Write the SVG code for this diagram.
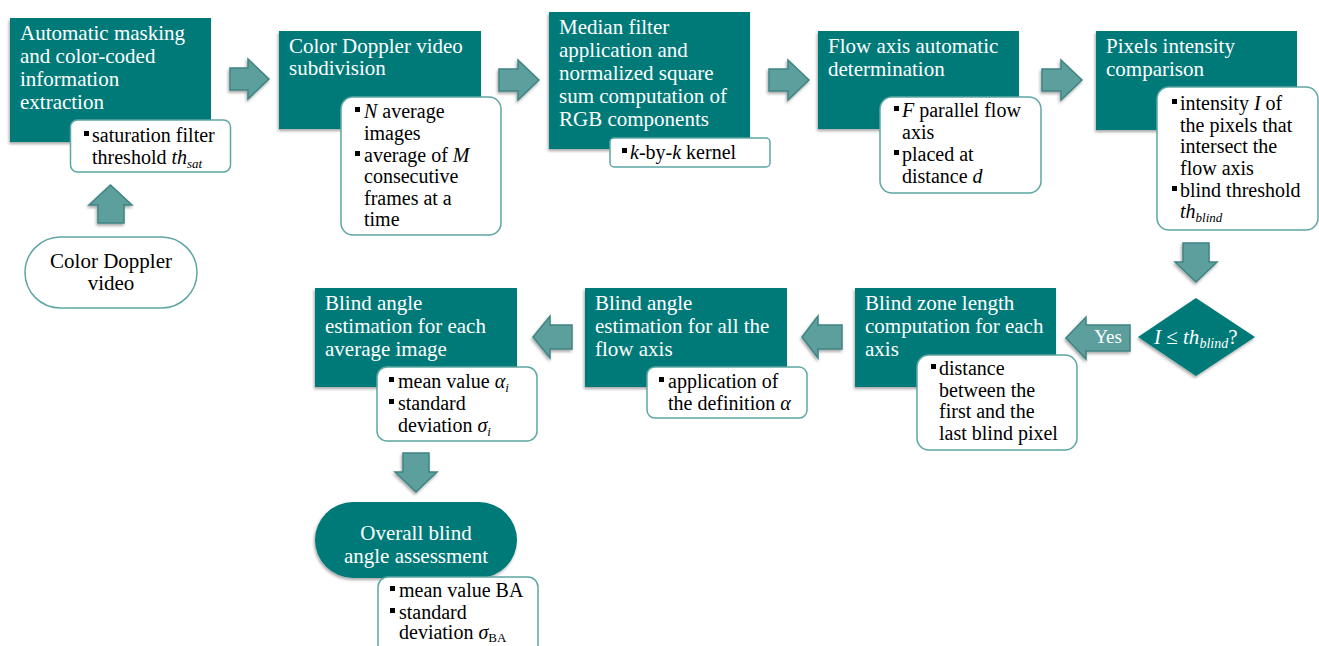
<svg xmlns="http://www.w3.org/2000/svg" width="1319" height="646" viewBox="0 0 1319 646">
<defs>
<filter id="sh" x="-10%" y="-10%" width="120%" height="130%">
<feDropShadow dx="-1" dy="2" stdDeviation="1.5" flood-color="#000" flood-opacity="0.35"/>
</filter>
</defs>
<style>
.box{fill:#007a78;filter:url(#sh)}
.sub{fill:#fff;stroke:#5ea6a4;stroke-width:1.5}
.arr{fill:#5c9f9d;stroke:#3f8482;stroke-width:1.5;filter:url(#sh)}
.t{font-family:"Liberation Serif","Times New Roman",serif;font-size:21px;fill:#fff}
.s{font-family:"Liberation Serif","Times New Roman",serif;font-size:20px;fill:#000}
.b{fill:#000}
.i{font-style:italic}
.sb{font-size:13px;font-style:italic}
</style>
<rect width="1319" height="646" fill="#fff"/>

<g id="connectors">
<path class="arr" d="M230,68 H248 V59 L269,79 L248,99 V90 H230 Z"/>
<path class="arr" d="M499,69 H518 V60 L539,80 L518,100 V91 H499 Z"/>
<path class="arr" d="M769,69 H788 V60 L809,80 L788,100 V91 H769 Z"/>
<path class="arr" d="M1042,69 H1061 V60 L1082,80 L1061,100 V91 H1042 Z"/>
<path class="arr" d="M1183,243 H1209 V262 H1217 L1196,282 L1175,262 H1183 Z"/>
<path class="arr" d="M1130,325 H1086 V317 L1066,338 L1086,359 V351 H1130 Z"/>
<text class="t" x="1108" y="343" text-anchor="middle" style="font-size:19px">Yes</text>
<path class="arr" d="M842,325 H818 V316 L802,337 L818,358 V349 H842 Z"/>
<path class="arr" d="M572,325 H550 V316 L533,337 L550,358 V349 H572 Z"/>
<path class="arr" d="M403,453 H429 V472 H437 L416,492 L395,472 H403 Z"/>
<path class="arr" d="M98,223 V205 H89 L110.5,185 L132,205 H124 V223 Z"/>
</g>

<g id="start">
<rect x="25" y="237" width="172" height="71" rx="35.5" fill="#fff" stroke="#5ea6a4" stroke-width="1.5"/>
<text class="s" x="111" y="268" text-anchor="middle" style="font-size:21px">Color Doppler</text>
<text class="s" x="111" y="290" text-anchor="middle" style="font-size:21px">video</text>
</g>

<g id="n1">
<rect class="box" x="10" y="18" width="201" height="124"/>
<text class="t" x="20" y="40">Automatic masking</text>
<text class="t" x="20" y="63">and color-coded</text>
<text class="t" x="20" y="86">information</text>
<text class="t" x="20" y="109">extraction</text>
<rect class="sub" x="70.5" y="120" width="160" height="52" rx="7"/>
<rect class="b" x="84" y="131" width="5" height="5"/>
<text class="s" x="92" y="142">saturation filter</text>
<text class="s" x="92" y="164">threshold <tspan class="i">th</tspan><tspan class="sb" dy="4">sat</tspan></text>
</g>

<g id="n2">
<rect class="box" x="279" y="31" width="202" height="98"/>
<text class="t" x="289" y="53">Color Doppler video</text>
<text class="t" x="289" y="75">subdivision</text>
<rect class="sub" x="341" y="97" width="160" height="138" rx="12"/>
<rect class="b" x="355" y="107" width="5" height="5"/>
<text class="s" x="364" y="118"><tspan class="i">N</tspan> average</text>
<text class="s" x="364" y="140">images</text>
<rect class="b" x="355" y="151" width="5" height="5"/>
<text class="s" x="364" y="162">average of <tspan class="i">M</tspan></text>
<text class="s" x="364" y="183">consecutive</text>
<text class="s" x="364" y="205">frames at a</text>
<text class="s" x="364" y="226">time</text>
</g>

<g id="n3">
<rect class="box" x="549" y="12" width="201" height="137"/>
<text class="t" x="559" y="34">Median filter</text>
<text class="t" x="559" y="57">application and</text>
<text class="t" x="559" y="80">normalized square</text>
<text class="t" x="559" y="103">sum computation of</text>
<text class="t" x="559" y="126">RGB components</text>
<rect class="sub" x="610" y="138" width="160" height="29" rx="4"/>
<rect class="b" x="622" y="148" width="5" height="5"/>
<text class="s" x="630" y="159"><tspan class="i">k</tspan>-by-<tspan class="i">k</tspan> kernel</text>
</g>

<g id="n4">
<rect class="box" x="818" y="31" width="201" height="98"/>
<text class="t" x="828" y="53">Flow axis automatic</text>
<text class="t" x="828" y="76">determination</text>
<rect class="sub" x="880" y="97" width="161" height="96" rx="12"/>
<rect class="b" x="894" y="106" width="5" height="5"/>
<text class="s" x="902" y="117"><tspan class="i">F</tspan> parallel flow</text>
<text class="s" x="902" y="139">axis</text>
<rect class="b" x="894" y="150" width="5" height="5"/>
<text class="s" x="902" y="161">placed at</text>
<text class="s" x="902" y="183">distance <tspan class="i">d</tspan></text>
</g>

<g id="n5">
<rect class="box" x="1096" y="31" width="201" height="99"/>
<text class="t" x="1106" y="53">Pixels intensity</text>
<text class="t" x="1106" y="76">comparison</text>
<rect class="sub" x="1157" y="87" width="161" height="143" rx="12"/>
<rect class="b" x="1172" y="99" width="5" height="5"/>
<text class="s" x="1180" y="110">intensity <tspan class="i">I</tspan> of</text>
<text class="s" x="1180" y="132">the pixels that</text>
<text class="s" x="1180" y="153">intersect the</text>
<text class="s" x="1180" y="175">flow axis</text>
<rect class="b" x="1172" y="186" width="5" height="5"/>
<text class="s" x="1180" y="197">blind threshold</text>
<text class="s" x="1180" y="218"><tspan class="i">th</tspan><tspan class="sb" dy="4">blind</tspan></text>
</g>

<g id="decision">
<polygon points="1196,298 1255,337 1196,376 1138,337" fill="#007a78" filter="url(#sh)"/>
<text class="t" x="1154" y="344" style="font-size:21px"><tspan class="i">I</tspan> ≤ <tspan class="i">th</tspan><tspan class="sb" dy="4" style="font-size:14px">blind</tspan><tspan dy="-4">?</tspan></text>
</g>

<g id="n6">
<rect class="box" x="855" y="288" width="201" height="99"/>
<text class="t" x="865" y="310">Blind zone length</text>
<text class="t" x="865" y="333">computation for each</text>
<text class="t" x="865" y="356">axis</text>
<rect class="sub" x="917" y="355" width="160" height="95" rx="12"/>
<rect class="b" x="931" y="364" width="5" height="5"/>
<text class="s" x="939" y="375">distance</text>
<text class="s" x="939" y="397">between the</text>
<text class="s" x="939" y="418">first and the</text>
<text class="s" x="939" y="440">last blind pixel</text>
</g>

<g id="n7">
<rect class="box" x="585" y="288" width="202" height="99"/>
<text class="t" x="595" y="310">Blind angle</text>
<text class="t" x="595" y="333">estimation for all the</text>
<text class="t" x="595" y="356">flow axis</text>
<rect class="sub" x="647" y="367" width="160" height="51" rx="8"/>
<rect class="b" x="659" y="377" width="5" height="5"/>
<text class="s" x="668" y="388">application of</text>
<text class="s" x="668" y="410">the definition <tspan class="i">α</tspan></text>
</g>

<g id="n8">
<rect class="box" x="315" y="288" width="202" height="99"/>
<text class="t" x="325" y="310">Blind angle</text>
<text class="t" x="325" y="333">estimation for each</text>
<text class="t" x="325" y="356">average image</text>
<rect class="sub" x="377" y="367" width="160" height="74" rx="10"/>
<rect class="b" x="389" y="377" width="5" height="5"/>
<text class="s" x="398" y="388">mean value <tspan class="i">α</tspan><tspan class="sb" dy="4">i</tspan></text>
<rect class="b" x="389" y="399" width="5" height="5"/>
<text class="s" x="398" y="410">standard</text>
<text class="s" x="398" y="432">deviation <tspan class="i">σ</tspan><tspan class="sb" dy="4">i</tspan></text>
</g>

<g id="n9">
<rect class="box" x="315" y="502" width="202" height="76" rx="38"/>
<text class="t" x="416" y="540" text-anchor="middle">Overall blind</text>
<text class="t" x="416" y="563" text-anchor="middle">angle assessment</text>
<rect class="sub" x="378" y="577" width="160" height="90" rx="10"/>
<rect class="b" x="390" y="586" width="5" height="5"/>
<text class="s" x="399" y="597">mean value BA</text>
<rect class="b" x="390" y="608" width="5" height="5"/>
<text class="s" x="399" y="619">standard</text>
<text class="s" x="399" y="639">deviation <tspan class="i">σ</tspan><tspan dy="3" style="font-size:13px">BA</tspan></text>
</g>
</svg>
